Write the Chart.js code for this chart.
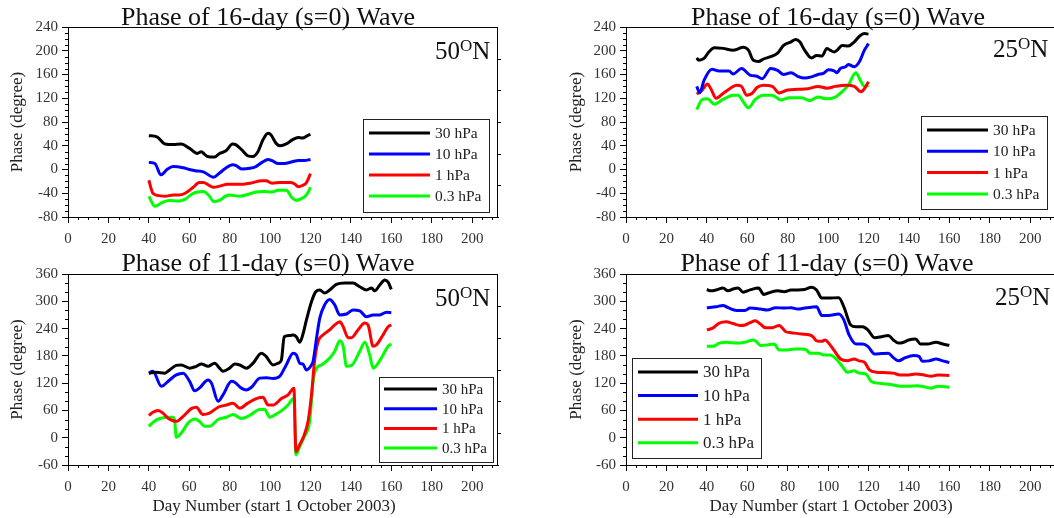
<!DOCTYPE html>
<html lang="en">
<head>
<meta charset="UTF-8">
<script src="https://cdn.jsdelivr.net/npm/chart.js"></script>
<title>Phase of 16-day and 11-day waves</title>
<style>
  body { margin: 0; background: #fff; overflow: hidden; width: 1054px; height: 518px; position: relative; }
  canvas { position: absolute; left: 0; top: 0; }
</style>
</head>
<body>
<canvas id="c16n50" width="1080" height="518"></canvas>
<canvas id="c16n25" width="1080" height="518"></canvas>
<canvas id="c11n50" width="1080" height="518"></canvas>
<canvas id="c11n25" width="1080" height="518"></canvas>

<script>
// pressure levels and colours
const levels = ['30 hPa', '10 hPa', '1 hPa', '0.3 hPa'];
const levelColors = ['#000000', '#0000ff', '#ff0000', '#00ff00'];

// axis ticks
const xTicks16 = { min: 0, max: 212.8, step: 20, minor: 5 };
const yTicks16 = { min: -80, max: 240, step: 40, minor: 10 };
const yTicks11 = { min: -60, max: 360, step: 60, minor: 20 };

// ---- 16-day wave, 50N ----
const d16n50_30 = [40,44,48,52,56,60,64,66,67.5,69,72.5,75,78,81.5,83,86,89,91.5,94,96.5,99,100.5,103,105,108,111,114,116,119,120];
const p16n50_30 = [57,55,43,42,43,36,27,30,26,22,21,27,31,43,42,33,23,22,30,50,61,58,44,40,43,50,54,53,58,59];
const d16n50_10 = [40,43,46,49,52,57,60,63,67,72,75,78,81.5,83,86,90,93,96,99,101,104,107,111,114,117,120];
const p16n50_10 = [12,10,-9,0,5,3,0,-2,-4,-13,-6,2,8,7,1,2,5,12,17,15,10,10,13,15,15,17];
const d16n50_1 = [40,42,45,48,52,55,58,62,65,67,70,72,75,79,85,90,96,98,101,105,110,112,114,116,118,120];
const p16n50_1 = [-18,-40,-44,-45,-43,-43,-40,-30,-22,-22,-27,-30,-28,-25,-25,-23,-19,-19,-23,-22,-22,-24,-29,-27,-22,-7];
const d16n50_03 = [40,43,47,50,55,58,61,64,67,70,72,75,78,80,85,89,93,97,101,104,108,111,113,115,118,120];
const p16n50_03 = [-45,-62,-55,-52,-53,-50,-42,-38,-37,-45,-54,-52,-45,-43,-45,-42,-38,-37,-38,-35,-35,-48,-52,-50,-43,-30];

// ---- 16-day wave, 25N ----
const d16n25_30 = [35,36,38.6,41,43.7,48,53,54.7,58,60.6,63,65.6,68,71.6,75,78,81.7,84,86,88.4,91.8,94.3,97,99.4,101,103,104.5,107,110,113,115.4,118,120];
const p16n25_30 = [188,184,187,198,205,204,201,202,206,201,184,182,186,190,196,209,215,219,215,201,188,192,191,204,201,198,201,209,208,215,224,229,228];
const d16n25_10 = [35,36.5,38.6,42.5,46,51,53,57.2,61.4,64.8,67.4,71.6,75,78,81.7,85,88.4,91.8,95,97.7,100.3,103,104.5,106,108.7,110,113,115.4,118,120];
const p16n25_10 = [140,129,150,169,166,166,161,170,159,157,153,170,167,160,163,157,154,156,160,162,168,166,163,170,173,177,173,181,201,212];
const d16n25_1 = [35,37.8,40.3,42,44.6,48,51.3,54.7,57.2,59.7,62.3,64.8,68,72.4,75.8,80,85,90,95,99.4,103.6,108.7,113,116.3,118,120];
const p16n25_1 = [127,134,144,136,120,128,136,142,140,125,128,138,142,140,129,134,135,136,140,137,140,142,140,131,136,148];
const d16n25_03 = [35,37.8,40.3,43.7,48,53,55.5,58,60.6,64,68,72.4,76.6,80.8,86.7,91,95,99.4,103.6,107,110,113.7,116.3,118,120];
const p16n25_03 = [101,118,119,110,118,125,125,114,104,118,125,125,117,121,121,116,122,119,122,131,142,163,148,140,142];

// ---- 11-day wave, 50N ----
const d11n50_30 = [40,43.7,47.9,50.3,53.6,56,60.2,63.5,66,69.3,72.6,75,76.7,80,82.5,85,88.3,91.6,95.7,98,101.5,104,105.6,107,109.7,111.4,113,114.7,116.3,118,120.5,122.6,124.6,127,129.5,132.8,137,141,144.4,147.7,150.2,151.8,154.3,156.8,158.4,160];
const p11n50_30 = [142,144,142,149,159,160,153,157,162,157,164,153,146,153,162,160,153,164,186,179,160,164,171,222,225,226,222,210,228,259,299,321,325,318,325,337,340,340,332,325,329,323,336,347,342,326];
const d11n50_10 = [40,42,46.2,50.3,53.6,57,60.2,62.7,65,69.3,71,74.3,76.7,80.9,82.5,85.8,88.3,90.8,94.9,98.2,101.5,104.8,108,111.4,113,114.7,116.3,118,120.5,121.3,123,124.6,127,129.5,132,134.5,137.8,141,144.4,147.7,151,154.3,157.6,160];
const p11n50_10 = [142,146,113,127,138,142,124,103,109,127,120,80,94,124,122,109,105,111,131,132,130,135,160,186,182,164,162,149,160,168,219,263,292,304,292,270,272,281,279,266,270,270,276,275];
const d11n50_1 = [40,42,44.6,47,49.5,53.6,57,61,63.5,66.8,70,74.3,78.4,81.7,85,89,93.2,96.5,99,101.5,105.6,108.9,111.8,112.8,114.7,117,118.8,120.5,122,123.8,126.2,129.5,132,134.5,136.2,138.6,140.3,143.5,146.9,148.5,151,152.6,155.9,158.4,160];
const p11n50_1 = [49,56,60,54,43,36,47,64,67,51,54,67,72,76,65,76,86,89,72,72,86,94,109,-30,-15,7,36,94,168,212,226,237,248,255,244,220,220,237,252,248,201,204,226,244,248];
const d11n50_03 = [40,42.9,46.2,48.7,52,52.8,53.6,56,59.4,62.7,65,67.7,70.1,74.3,78.4,81.7,85.8,89.9,94.9,97.4,99.8,103,105.6,108.9,111.8,112.8,114.7,117,119.6,121.3,123,125.4,129.5,132,134.5,136.2,137.8,140.3,144.4,146.9,149.3,151,153.5,155.9,158.4,160];
const p11n50_03 = [25,37,43,45,45,36,1,10,32,41,36,25,25,40,45,51,42,49,62,62,45,52,59,72,87,-37,-19,3,36,124,153,160,175,190,213,201,157,159,190,210,182,153,164,182,201,206];

// ---- 11-day wave, 25N ----
const d11n25_30 = [40,42,44.6,48,50.5,53,55.5,58,61.4,65.6,68.2,71.6,75,78.3,81.7,85,88.4,91.8,94.3,96.9,100.3,105.3,107.8,111.2,113.8,117.1,119.7,123,126.4,129.8,132.3,134.9,137.4,139.9,143.3,145.8,149.2,153.4,156.8,160];
const p11n25_30 = [326,323,325,329,323,327,329,320,325,329,315,320,323,321,325,325,326,331,325,307,307,308,288,248,244,244,237,220,222,225,215,208,210,215,217,206,206,210,206,203];
const d11n25_10 = [40,44.6,48,50.5,54.7,58.9,61.4,66.5,69.9,74.1,78.3,81.7,85,88.4,91.8,94.3,96.9,100.3,105.3,107.8,110.4,113.8,117.1,119.7,123,126.4,129.8,132.3,134.9,138.2,142.4,145,146.7,150,153.4,156.8,160];
const p11n25_10 = [286,288,291,286,280,280,285,283,281,286,285,286,283,285,287,288,269,269,272,259,226,206,206,201,184,185,186,176,169,176,181,179,168,169,173,169,165];
const d11n25_1 = [40,42.9,46.2,49.6,53,56.4,58.9,61.4,64,66.5,69,72.4,75.8,79.1,81.7,86.7,91,92.6,94.3,96.9,98.6,100.3,102.8,106.2,109.5,112.9,115.4,118,120.5,123.9,129,132.3,135.7,139.9,143.3,147.5,150.9,154.3,160];
const p11n25_1 = [237,241,252,255,251,247,248,253,257,250,242,242,247,233,231,228,226,222,213,212,215,208,193,173,169,173,169,166,149,144,143,142,138,138,140,138,135,138,137];
const d11n25_03 = [40,42.9,46.2,49.6,54.7,58.9,63.1,64.8,66.5,69.9,73.3,75.8,80,83.4,86.7,89.3,91,95.2,97.7,101,104.5,107,109.5,112.9,115.4,118.8,121.3,124.7,129,132.3,135.7,139.9,144.1,147.5,150.9,154.3,160];
const p11n25_03 = [201,201,208,210,208,210,215,210,203,204,206,193,193,195,195,193,186,186,182,182,171,157,144,147,142,140,124,120,118,116,113,113,114,112,109,113,111];

const serif = '"Liberation Serif", "Times New Roman", serif';

function pairs(days, vals) {
    return days.map((d, i) => ({ x: d, y: vals[i] }));
}

// draws frame, minor ticks, titles, latitude label and boxed legend
const panelDecor = {
    id: 'panelDecor',
    afterDraw(chart, args, o) {
        const ctx = chart.ctx;
        const a = chart.chartArea;
        const xs = chart.scales.x, ys = chart.scales.y;
        ctx.save();
        ctx.strokeStyle = '#000';
        ctx.lineWidth = 1;
        // top and right frame
        ctx.beginPath();
        ctx.moveTo(a.left, a.top + 0.5); ctx.lineTo(a.right, a.top + 0.5);
        ctx.moveTo(a.right - 0.5, a.top); ctx.lineTo(a.right - 0.5, a.bottom);
        // minor ticks
        for (let v = xs.min; v <= xs.max; v += o.xMinor) {
            if (v % o.xMajor === 0) continue;
            const px = Math.round(xs.getPixelForValue(v)) + 0.5;
            ctx.moveTo(px, a.bottom); ctx.lineTo(px, a.bottom + 3);
        }
        for (let v = ys.min; v <= ys.max; v += o.yMinor) {
            if ((v - ys.min) % o.yMajor === 0) continue;
            const py = Math.round(ys.getPixelForValue(v)) + 0.5;
            ctx.moveTo(a.left - 3, py); ctx.lineTo(a.left, py);
        }
        for (let i = 1; i < 6; i++) {
            const py = Math.round(a.top + i * (a.bottom - a.top) / 6) + 0.5;
            ctx.moveTo(a.right, py); ctx.lineTo(a.right + 3, py);
        }
        ctx.stroke();

        ctx.fillStyle = '#111';
        // panel title
        ctx.font = '26px ' + serif;
        ctx.textAlign = 'center';
        ctx.textBaseline = 'alphabetic';
        ctx.fillText(o.title, o.titleX, o.titleY);
        // latitude label with superscript
        ctx.textAlign = 'left';
        ctx.font = '25px ' + serif;
        let x = o.latX;
        ctx.fillText(o.latNum, x, o.latY);
        x += ctx.measureText(o.latNum).width;
        ctx.font = '17px ' + serif;
        ctx.fillText('O', x, o.latY - 8);
        x += ctx.measureText('O').width;
        ctx.font = '25px ' + serif;
        ctx.fillText('N', x, o.latY);
        // axis titles
        ctx.font = '17px ' + serif;
        ctx.fillStyle = '#222';
        ctx.save();
        ctx.translate(o.yTitleX, (a.top + a.bottom) / 2);
        ctx.rotate(-Math.PI / 2);
        ctx.textAlign = 'center';
        ctx.textBaseline = 'middle';
        ctx.fillText('Phase (degree)', 0, 0);
        ctx.restore();
        if (o.xTitle) {
            ctx.textAlign = 'center';
            ctx.fillText(o.xTitle, o.xTitleX, o.xTitleY);
        }
        // legend
        const L = o.legend;
        ctx.strokeStyle = '#222';
        ctx.lineWidth = 1;
        ctx.strokeRect(L.x + 0.5, L.y + 0.5, L.w, L.h);
        ctx.font = L.font + 'px ' + serif;
        ctx.textAlign = 'left';
        ctx.textBaseline = 'middle';
        chart.data.datasets.forEach((ds, i) => {
            const ry = L.row0 + i * L.rowStep;
            ctx.strokeStyle = ds.borderColor;
            ctx.lineWidth = 3;
            ctx.beginPath();
            ctx.moveTo(L.lineX0, ry); ctx.lineTo(L.lineX1, ry);
            ctx.stroke();
            ctx.fillStyle = '#222';
            ctx.fillText(ds.label, L.textX, ry + 1);
        });
        ctx.restore();
    }
};

function makePanel(id, series, yt, area, deco) {
    const datasets = series.map((s, i) => ({
        label: levels[i],
        data: pairs(s[0], s[1]),
        borderColor: levelColors[i],
        borderWidth: 3,
        pointRadius: 0,
        fill: false,
        cubicInterpolationMode: 'monotone'
    }));
    const tickFont = { family: serif, size: 15 };
    return new Chart(document.getElementById(id), {
        type: 'line',
        data: { datasets: datasets },
        plugins: [panelDecor],
        options: {
            responsive: false,
            animation: false,
            devicePixelRatio: 1,
            layout: {
                padding: { left: area.left - 60, top: area.top, right: 1080 - area.right, bottom: 518 - area.bottom - 30 }
            },
            scales: {
                x: {
                    type: 'linear',
                    min: xTicks16.min, max: xTicks16.max,
                    ticks: { stepSize: xTicks16.step, includeBounds: false, font: tickFont, color: '#333', padding: 7, maxRotation: 0 },
                    grid: { drawOnChartArea: false, tickLength: 6, tickColor: '#000' },
                    border: { color: '#000', width: 1 },
                    afterFit: s => { s.height = 30; }
                },
                y: {
                    min: yt.min, max: yt.max,
                    ticks: { stepSize: yt.step, font: tickFont, color: '#333', padding: 4 },
                    grid: { drawOnChartArea: false, tickLength: 6, tickColor: '#000' },
                    border: { color: '#000', width: 1 },
                    afterFit: s => { s.width = 60; }
                }
            },
            plugins: {
                legend: { display: false },
                tooltip: { enabled: false },
                panelDecor: Object.assign({ xMinor: xTicks16.minor, xMajor: xTicks16.step, yMinor: yt.minor, yMajor: yt.step }, deco)
            }
        }
    });
}

makePanel('c16n50',
    [[d16n50_30, p16n50_30], [d16n50_10, p16n50_10], [d16n50_1, p16n50_1], [d16n50_03, p16n50_03]],
    yTicks16, { left: 68, top: 27, right: 498, bottom: 217 },
    { title: 'Phase of 16-day (s=0) Wave', titleX: 268, titleY: 25, latNum: '50', latX: 435, latY: 59,
      yTitleX: 18,
      legend: { x: 363, y: 119, w: 126, h: 93, row0: 133, rowStep: 21, lineX0: 369, lineX1: 430, textX: 435, font: 15.5 } });

makePanel('c16n25',
    [[d16n25_30, p16n25_30], [d16n25_10, p16n25_10], [d16n25_1, p16n25_1], [d16n25_03, p16n25_03]],
    yTicks16, { left: 626, top: 27, right: 1056, bottom: 217 },
    { title: 'Phase of 16-day (s=0) Wave', titleX: 838, titleY: 25, latNum: '25', latX: 993, latY: 57,
      yTitleX: 577,
      legend: { x: 921, y: 116, w: 126, h: 93, row0: 130, rowStep: 21.3, lineX0: 927, lineX1: 988, textX: 993, font: 15.5 } });

makePanel('c11n50',
    [[d11n50_30, p11n50_30], [d11n50_10, p11n50_10], [d11n50_1, p11n50_1], [d11n50_03, p11n50_03]],
    yTicks11, { left: 68, top: 274, right: 498, bottom: 465 },
    { title: 'Phase of 11-day (s=0) Wave', titleX: 268, titleY: 271, latNum: '50', latX: 435, latY: 306,
      yTitleX: 18, xTitle: 'Day Number (start 1 October 2003)', xTitleX: 274, xTitleY: 511,
      legend: { x: 379, y: 377, w: 114, h: 85, row0: 389, rowStep: 19.7, lineX0: 384, lineX1: 437, textX: 442, font: 15 } });

makePanel('c11n25',
    [[d11n25_30, p11n25_30], [d11n25_10, p11n25_10], [d11n25_1, p11n25_1], [d11n25_03, p11n25_03]],
    yTicks11, { left: 626, top: 274, right: 1056, bottom: 465 },
    { title: 'Phase of 11-day (s=0) Wave', titleX: 827, titleY: 271, latNum: '25', latX: 995, latY: 305,
      yTitleX: 577, xTitle: 'Day Number (start 1 October 2003)', xTitleX: 831, xTitleY: 511,
      legend: { x: 632, y: 358, w: 129, h: 100, row0: 372, rowStep: 23.6, lineX0: 638, lineX1: 698, textX: 703, font: 17 } });
</script>
</body>
</html>
